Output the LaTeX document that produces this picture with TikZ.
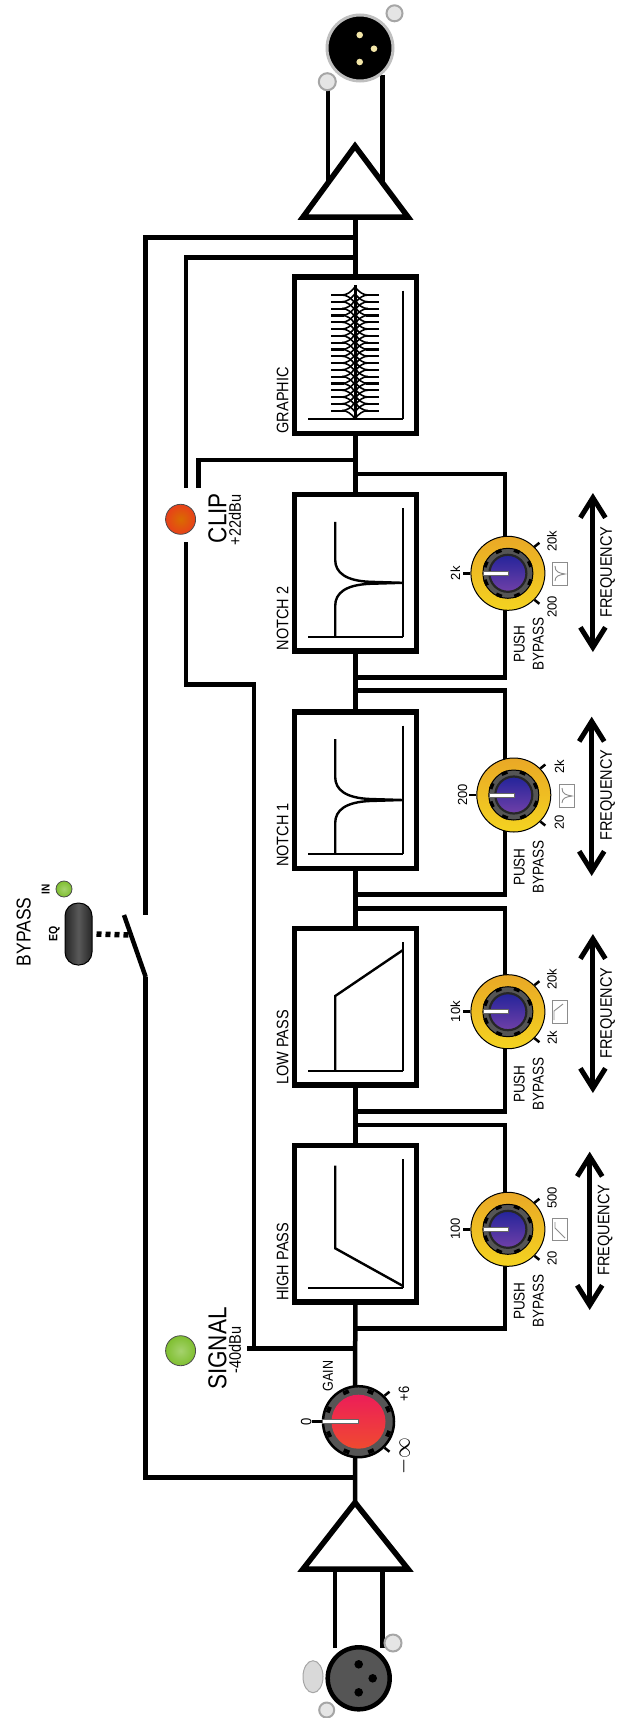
\documentclass[tikz,border=0pt]{standalone}
\usepackage{fontspec}
\setmainfont{Liberation Sans}
\usetikzlibrary{arrows.meta, shapes.geometric}

\definecolor{rimgold}{HTML}{E9A826}
\definecolor{rimyellow}{HTML}{F4D320}
\definecolor{capblue}{HTML}{24249A}
\definecolor{capviolet}{HTML}{7040A8}
\definecolor{capred}{HTML}{EC1E58}
\definecolor{caporange}{HTML}{F04A30}
\definecolor{ringgrey}{HTML}{555555}
\definecolor{ledgreen}{HTML}{7FBF30}
\definecolor{ledred}{HTML}{E8401A}
\definecolor{pincream}{HTML}{F3E6A8}

\tikzset{
	wire/.style={line width=4.5pt},
	filterbox/.style={draw, line width=5.5pt, fill=white, minimum width=122pt, minimum height=156.5pt, inner sep=0pt},
	amp/.style={draw, line width=5.5pt, fill=white, miter limit=10},
	curve/.style={line width=2.4pt},
	freqarrow/.style={line width=5pt, {Straight Barb[length=20pt,width=25pt]}-{Straight Barb[length=20pt,width=25pt]}},
	vlabel/.style={transform shape, xscale=1.15, rotate=90, inner sep=0pt},
	boxtext/.style={vlabel, anchor=west, font=\fontsize{14.5}{16}\selectfont},
	pushtext/.style={vlabel, align=center, font=\fontsize{13.5}{16.5}\selectfont},
	freqtext/.style={vlabel, font=\fontsize{14.5}{16}\selectfont},
	dialtext/.style={xscale=.88, vlabel, font=\fontsize{13}{14}\selectfont},
	led/.style={circle, draw=black!70, line width=0.8pt, minimum size=#1, inner sep=0pt},
	knobrim/.style={circle, draw=black, line width=1pt, minimum size=74pt, inner sep=0pt, top color=rimgold, bottom color=rimyellow},
	knobring/.style={circle, draw=black, line width=1pt, fill=ringgrey, minimum size=50pt, inner sep=0pt},
	knobcap/.style={circle, draw=black!85, line width=2.2pt, top color=capblue, bottom color=capviolet, minimum size=37pt, inner sep=0pt},
	knobtick/.style={line width=2.5pt},
	needle/.style={draw=black!60, line width=0.5pt, fill=white},
	icon/.style={draw=black!45, line width=0.9pt, fill=white},
	screw/.style={circle, draw=black!35, line width=2pt, fill=black!10, minimum size=#1, inner sep=0pt}
}

% a filter dial, with its needle and ticks
\newcommand{\fdial}[3]{
	\node[knobrim] (#1) at (#2,#3) {};
	\node[knobring] (#1ring) at (#1) {};
	\foreach \a in {22,67,...,337}
		\draw[line width=6pt] (#1) ++(\a:22) -- ++(\a:3.5);
	\node[knobcap] (#1cap) at (#1) {};
	\draw[needle] (#1) ++(-25,-2) rectangle ++(25,4);
	\draw[knobtick] (#1.west) -- ++(-7,0);
	\draw[knobtick] (#1.45) -- ++(5,-4);
	\draw[knobtick] (#1.-45) -- ++(5,4);
}
% the axes inside a filter box
\newcommand{\faxes}[1]{
	\draw[curve] (403,#1-64.5) -- (403,#1+64);
	\draw[curve] (308.3,#1+64) -- (403,#1+64);
}
% a notch curve inside a filter box
\newcommand{\fnotch}[1]{
	\draw[curve] (335.2,#1-51) -- (335.2,#1-13) .. controls (335.2,#1) and (346,#1+8) .. (370,#1+9) -- (403,#1+10)
		-- (370,#1+11) .. controls (346,#1+12) and (335.2,#1+20) .. (335.2,#1+33) -- (335.2,#1+64);
}

\begin{document}
\begin{tikzpicture}[x=1pt,y=-1pt]
	\useasboundingbox (0,0) rectangle (620,1718);

	% filter boxes
	\node[filterbox] (geq) at (355.3,355) {};
	\node[filterbox] (ntwo) at (355.3,572.8) {};
	\node[filterbox] (none) at (355.3,790) {};
	\node[filterbox] (lpf) at (355.3,1006.7) {};
	\node[filterbox] (hpf) at (355.3,1223.8) {};
	\node[boxtext] (geqtxt) at (282.6,433.5) {GRAPHIC};
	\node[boxtext] (ntwotxt) at (282.6,650.5) {NOTCH 2};
	\node[boxtext] (nonetxt) at (282.6,867) {NOTCH 1};
	\node[boxtext] (lpftxt) at (282.6,1085) {LOW PASS};
	\node[boxtext] (hpftxt) at (282.6,1301) {HIGH PASS};

	% curves in the boxes
	\faxes{355}
	\faxes{572.8}
	\faxes{790}
	\faxes{1006.7}
	\faxes{1223.8}
	\fnotch{572.8}
	\fnotch{790}
	\draw[curve] (335.2,1071) -- (335.2,996) -- (403,950);
	\draw[curve] (335.2,1165.7) -- (335.2,1248.3) -- (403,1286);
	% graphic eq bands
	\draw[line width=3pt] (355,285) -- (355,420);
	\foreach \i in {0,...,17}{
		\pgfmathsetmacro{\yb}{295+6.8*\i}
		\draw[line width=2.2pt] (331.2,\yb) -- (344,\yb);
		\draw[line width=2.2pt] (366,\yb) -- (379.4,\yb);
		\draw[line width=1.6pt] (342,\yb) .. controls (347,\yb) and (351,\yb+3) .. (355,\yb+8);
		\draw[line width=1.6pt] (342,\yb) .. controls (347,\yb) and (351,\yb-3) .. (355,\yb-8);
		\draw[line width=1.6pt] (368,\yb) .. controls (363,\yb) and (359,\yb+3) .. (355,\yb+8);
		\draw[line width=1.6pt] (368,\yb) .. controls (363,\yb) and (359,\yb-3) .. (355,\yb-8);
	}

	% amplifiers and their points
	\coordinate (ampintip) at (355,1502.5);
	\coordinate (ampinl) at (303,1569);
	\coordinate (ampinr) at (408,1569);
	\coordinate (ampouttip) at (355,146);
	\coordinate (ampoutl) at (303,217);
	\coordinate (ampoutr) at (408,217);

	% wires between the stages
	\draw[wire] (ampintip) -- (hpf.south);
	\draw[wire] (hpf.north) -- (lpf.south);
	\draw[wire] (lpf.north) -- (none.south);
	\draw[wire] (none.north) -- (ntwo.south);
	\draw[wire] (ntwo.north) -- (geq.south);
	\draw[wire] (geq.north) -- (ampoutl -| geq.north);

	% push bypass loops
	\coordinate (hpfja) at (355,1328.3);
	\coordinate (hpfjb) at (355,1125);
	\coordinate (lpfja) at (355,1111.7);
	\coordinate (lpfjb) at (355,908.3);
	\coordinate (noneja) at (355,894.3);
	\coordinate (nonejb) at (355,690.7);
	\coordinate (ntwoja) at (355,677.7);
	\coordinate (ntwojb) at (355,474);
	\draw[wire] (hpfja) -- (505.1,1328.3) -- (505.1,1125) -- (hpfjb);
	\draw[wire] (lpfja) -- (505.1,1111.7) -- (505.1,908.3) -- (lpfjb);
	\draw[wire] (noneja) -- (505.1,894.3) -- (505.1,690.7) -- (nonejb);
	\draw[wire] (ntwoja) -- (505.1,677.7) -- (505.1,474) -- (ntwojb);

	% bypass line and switch
	\coordinate (bpsin) at (355,1477.7);
	\coordinate (bpsout) at (355,237.3);
	\coordinate (swlow) at (145.7,977);
	\coordinate (swhigh) at (145.7,915);
	\coordinate (swblade) at (124,915);
	\coordinate (swmid) at (131,935);
	\draw[wire] (bpsin) -- (145.7,1477.7) -- (swlow);
	\draw[wire] (bpsout) -- (145.7,237.3) -- (swhigh);
	\draw[wire] (swlow) -- (swblade);
	\node[draw=black, line width=1pt, rounded corners=13pt, minimum width=27pt, minimum height=62pt, inner sep=0pt, left color=black!85, right color=black!85, middle color=black!65] (eqsw) at (78.5,934) {};
	\draw[line width=5.5pt, dash pattern=on 5pt off 4pt] (eqsw.east) ++(4,0) -- (swmid);
	\node[vlabel, font=\fontsize{17.5}{20}\selectfont] (bptxt) at (23.7,931.7) {BYPASS};
	\node[vlabel, font=\fontsize{10.5}{11}\bfseries] (eqtxt) at (54.3,934) {EQ};
	\node[vlabel, font=\fontsize{10}{10}\bfseries] (intxt) at (45.7,889) {IN};
	\node[led=16pt, inner color=ledgreen!70, outer color=ledgreen] (inled) at (64,889) {};

	% meter lines and leds
	\coordinate (sigj) at (355,1348.3);
	\coordinate (clipa) at (185.8,541.7);
	\coordinate (clipb) at (185.8,488);
	\coordinate (clipc) at (198.4,488);
	\coordinate (clipd) at (355,460);
	\coordinate (clipe) at (355,257.7);
	\draw[wire] (sigj) -- (247,1348.3);
	\draw[wire] (253.8,1350.5) -- (253.8,684.3) -- (185.8,684.3) -- (clipa);
	\draw[wire] (clipd) -- (198.4,460) -- (clipc);
	\draw[wire] (clipe) -- (185.8,257.7) -- (clipb);
	\node[led=30pt, inner color=orange!85!black, outer color=ledred] (clipled) at (180.6,519.3) {};
	\node[led=30pt, inner color=ledgreen!70, outer color=ledgreen] (sigled) at (180.6,1350.7) {};
	\node[vlabel, font=\fontsize{22.5}{24}\selectfont] (cliptxt) at (217.4,518) {CLIP};
	\node[vlabel, font=\fontsize{14.5}{16}\selectfont] (clipdb) at (235,520) {+22dBu};
	\node[vlabel, font=\fontsize{22.5}{24}\selectfont] (sigtxt) at (217.4,1348.7) {SIGNAL};
	\node[vlabel, font=\fontsize{14.5}{16}\selectfont] (sigdb) at (235,1350) {-40dBu};

	% amplifier triangles and connector wires
	\coordinate (xlrina) at (335,1648);
	\coordinate (xlrinb) at (382.6,1648);
	\coordinate (xlrouta) at (328,85);
	\coordinate (xlroutb) at (382.6,75);
	\draw[wire] (xlrina) -- (ampinl -| xlrina);
	\draw[wire] (xlrinb) -- (ampinr -| xlrinb);
	\draw[wire] (xlrouta) -- (328,195);
	\draw[wire] (xlroutb) -- (382.6,195);
	\draw[amp] (ampintip) -- (ampinl) -- (ampinr) -- cycle;
	\draw[amp] (ampouttip) -- (ampoutl) -- (ampoutr) -- cycle;

	% gain dial
	\node[circle, draw=black, line width=2.5pt, fill=ringgrey, minimum size=71pt, inner sep=0pt] (gain) at (358.5,1421.7) {};
	\foreach \a in {22,67,...,337}
		\draw[line width=6pt] (gain) ++(\a:30) -- ++(\a:4);
	\node[circle, top color=capred, bottom color=caporange, minimum size=54pt, inner sep=0pt] (gaincap) at (gain) {};
	\draw[needle] (gain) ++(-36,-2) rectangle ++(36,4);
	\draw[knobtick] (gain.west) -- ++(-10,0);
	\draw[knobtick] (gain.45) -- ++(5,-4);
	\draw[knobtick] (gain.-45) -- ++(5,4);
	\node[vlabel, font=\fontsize{12.5}{14}\selectfont] (gaintxt) at (328,1376) {GAIN};
	\node[vlabel, font=\fontsize{13}{14}\selectfont] (gainzero) at (306.3,1421.7) {0};
	\node[vlabel, font=\fontsize{13}{14}\selectfont] (gainmax) at (404,1394) {+6};
	\node[vlabel, font=\fontsize{21}{21}\selectfont] (gainmin) at (404,1456) {$-\infty$};

	% filter dials
	\fdial{hpfknob}{507.9}{1229.3}
	\fdial{lpfknob}{507.9}{1011.7}
	\fdial{noneknob}{513.8}{795}
	\fdial{ntwoknob}{507.9}{573.3}
	\node[dialtext] (hpfa) at (455.3,1229) {100};
	\node[dialtext] (hpfb) at (552,1258) {20};
	\node[dialtext] (hpfc) at (552,1198) {500};
	\node[dialtext] (lpfa) at (455.3,1011.7) {10k};
	\node[dialtext] (lpfb) at (552,1038) {2k};
	\node[dialtext] (lpfc) at (552,979) {20k};
	\node[dialtext] (nonea) at (462.5,795) {200};
	\node[dialtext] (noneb) at (559.3,822) {20};
	\node[dialtext] (nonec) at (559.3,767) {2k};
	\node[dialtext] (ntwoa) at (455.3,573.3) {2k};
	\node[dialtext] (ntwob) at (552,607) {200};
	\node[dialtext] (ntwoc) at (552,541) {20k};

	% little response pictures
	\draw[icon] (552,1218) rectangle (567,1240);
	\draw[icon] (555,1222) -- (555,1228) -- (565,1238);
	\draw[icon] (552,1000) rectangle (567,1023);
	\draw[icon] (563,1004) -- (554,1011) -- (554,1020);
	\draw[icon] (559,784) rectangle (574,807);
	\draw[icon] (562,788) .. controls (562,794) and (566,795) .. (572,796) .. controls (566,797) and (562,798) .. (562,803);
	\draw[icon] (552,562) rectangle (567,585);
	\draw[icon] (555,566) .. controls (555,572) and (559,573) .. (565,574) .. controls (559,575) and (555,576) .. (555,581);

	% push bypass texts
	\node[pushtext] (hpfpush) at (528.7,1301) {PUSH\\BYPASS};
	\node[pushtext] (lpfpush) at (528.7,1084) {PUSH\\BYPASS};
	\node[pushtext] (nonepush) at (528.7,867) {PUSH\\BYPASS};
	\node[pushtext] (ntwopush) at (528.7,644) {PUSH\\BYPASS};

	% frequency arrows
	\coordinate (hpftop) at (589.7,1151.7);
	\coordinate (hpfbot) at (589.7,1310);
	\coordinate (lpftop) at (592.9,934);
	\coordinate (lpfbot) at (592.9,1093);
	\coordinate (nonetop) at (591.7,716.7);
	\coordinate (nonebot) at (591.7,876);
	\coordinate (ntwotop) at (592.9,493);
	\coordinate (ntwobot) at (592.9,652);
	\draw[freqarrow] (hpftop) -- (hpfbot);
	\draw[freqarrow] (lpftop) -- (lpfbot);
	\draw[freqarrow] (nonetop) -- (nonebot);
	\draw[freqarrow] (ntwotop) -- (ntwobot);
	\node[freqtext] (hpffreq) at (605,1230) {FREQUENCY};
	\node[freqtext] (lpffreq) at (607.5,1013) {FREQUENCY};
	\node[freqtext] (nonefreq) at (607.5,795) {FREQUENCY};
	\node[freqtext] (ntwofreq) at (607.5,572) {FREQUENCY};

	% input connector
	\node[screw=17pt] (inscrewa) at (393,1643) {};
	\node[screw=15pt] (inscrewb) at (326.7,1710) {};
	\node[ellipse, draw=black!35, line width=1pt, fill=black!15, minimum width=20pt, minimum height=32pt, inner sep=0pt] (intab) at (313,1676.7) {};
	\node[circle, draw=black, line width=4.5pt, fill=ringgrey, minimum size=62pt, inner sep=0pt] (xlrin) at (358.7,1678.3) {};
	\fill (358.7,1664.3) circle (4.3pt);
	\fill (372.7,1678.3) circle (4.3pt);
	\fill (358.7,1692.3) circle (4.3pt);

	% output connector
	\node[screw=16pt] (outscrewa) at (394.5,13.3) {};
	\node[circle, draw=black!25, line width=3pt, fill=black, minimum size=66pt, inner sep=0pt] (xlrout) at (360,48) {};
	\node[screw=17pt] (outscrewb) at (327.3,81.7) {};
	\fill[pincream] (359.7,35) circle (3.3pt);
	\fill[pincream] (374,48.7) circle (3.3pt);
	\fill[pincream] (359.7,62) circle (3.3pt);
\end{tikzpicture}
\end{document}
